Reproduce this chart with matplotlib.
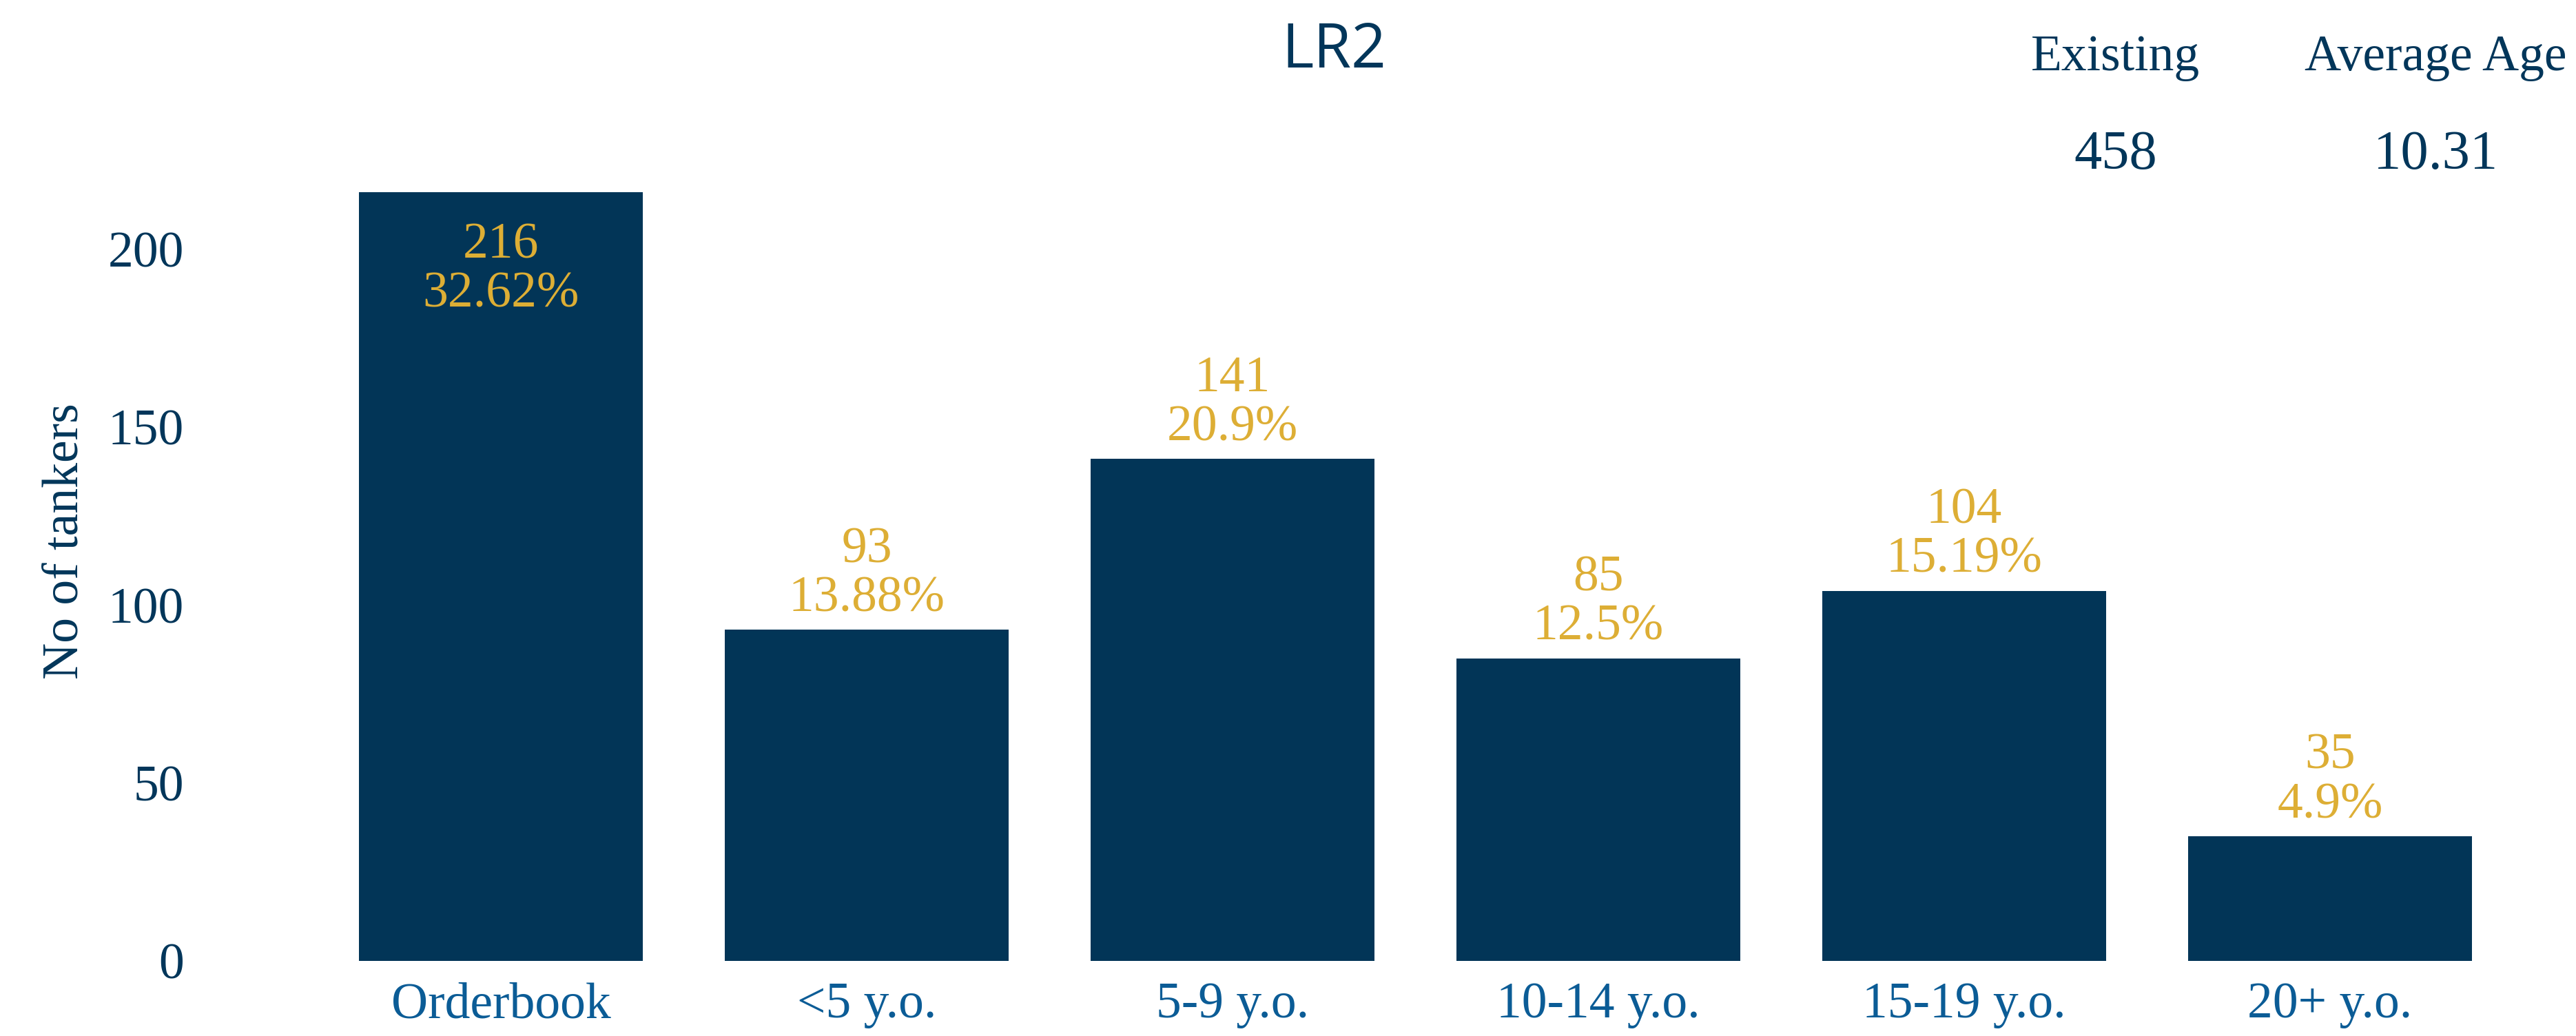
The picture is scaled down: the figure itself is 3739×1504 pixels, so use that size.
import matplotlib
matplotlib.use("Agg")
import matplotlib.pyplot as plt

categories = ["Orderbook", "<5 y.o.", "5-9 y.o.", "10-14 y.o.", "15-19 y.o.", "20+ y.o."]
counts = [216, 93, 141, 85, 104, 35]
shares = ["32.62%", "13.88%", "20.9%", "12.5%", "15.19%", "4.9%"]
yticks = [0, 50, 100, 150, 200]

title = "LR2"
existing = "458"
average_age = "10.31"

NAVY = "#02365A"
BAR = "#023557"
GOLD = "#DDAE35"
TICK_BLUE = "#0B5C96"
SERIF = "Liberation Serif"
FS = 53

W, H = 3739, 1504
fig = plt.figure(figsize=(W / 100, H / 100), dpi=100)

# plot area in pixel terms: x from 408 to 3701, y from 175 to 1395 (top-down)
left, right, top, bottom = 408.4, 3700.6, 175.6, 1395.0
ax = fig.add_axes([left / W, 1 - bottom / H, (right - left) / W, (bottom - top) / H])

x = list(range(len(categories)))
ax.bar(x, counts, width=0.776, color=BAR)
ax.set_xlim(-0.6, 5.6)
ax.set_ylim(0, 236)

for xi, c, s in zip(x, counts, shares):
    label = f"{c}\n{s}"
    if c > 200:
        # tall bar: label goes inside, near the top
        ax.annotate(label, (xi, c), xytext=(0, -32), textcoords="offset points",
                    ha="center", va="top", color=GOLD, fontsize=FS, family=SERIF,
                    linespacing=1.07)
    else:
        ax.annotate(label, (xi, c), xytext=(0, 8), textcoords="offset points",
                    ha="center", va="bottom", color=GOLD, fontsize=FS, family=SERIF,
                    linespacing=1.07)

ax.set_xticks(x)
ax.set_xticklabels(categories, color=TICK_BLUE, fontsize=FS, family=SERIF)
ax.set_yticks(yticks)
ax.set_yticklabels([str(v) for v in yticks], color=NAVY, fontsize=FS, family=SERIF)
ax.tick_params(axis="x", length=0, pad=22)
ax.tick_params(axis="y", length=0, pad=102)

ax.set_ylabel("No of tankers", color=NAVY, fontsize=FS, family=SERIF)
ax.yaxis.set_label_coords(-0.085, 0.5)

for sp in ax.spines.values():
    sp.set_visible(False)

fig.text(1936 / W, 1 - 98 / H, title, ha="center", va="baseline",
         color=NAVY, fontsize=64, family="Open Sans")

fig.text(3071 / W, 1 - 102 / H, "Existing", ha="center", va="baseline",
         color=NAVY, fontsize=FS, family=SERIF)
fig.text(3535 / W, 1 - 102 / H, "Average Age", ha="center", va="baseline",
         color=NAVY, fontsize=FS, family=SERIF)
fig.text(3071 / W, 1 - 245 / H, existing, ha="center", va="baseline",
         color=NAVY, fontsize=58, family=SERIF)
fig.text(3535 / W, 1 - 245 / H, average_age, ha="center", va="baseline",
         color=NAVY, fontsize=58, family=SERIF)

fig.savefig("out.png", dpi=100, facecolor="white")
